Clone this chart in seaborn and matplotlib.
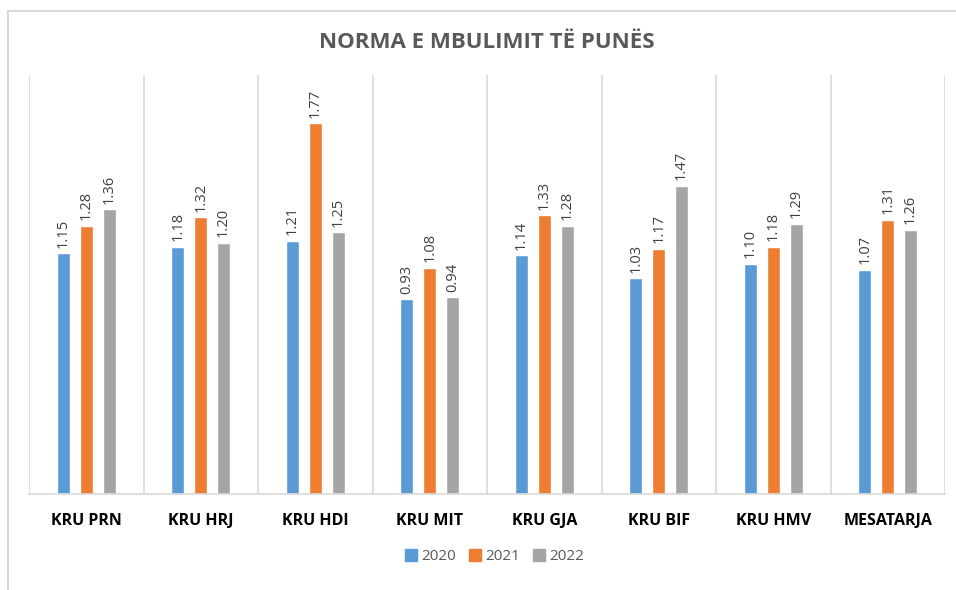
import numpy as np
import pandas as pd
import matplotlib.pyplot as plt
import seaborn as sns
from matplotlib.patches import Rectangle
from matplotlib.lines import Line2D

categories = ['KRU PRN', 'KRU HRJ', 'KRU HDI', 'KRU MIT', 'KRU GJA', 'KRU BIF', 'KRU HMV', 'MESATARJA']
years = ['2020', '2021', '2022']
v2020 = [1.15, 1.18, 1.21, 0.93, 1.14, 1.03, 1.10, 1.07]
v2021 = [1.28, 1.32, 1.77, 1.08, 1.33, 1.17, 1.18, 1.31]
v2022 = [1.36, 1.20, 1.25, 0.94, 1.28, 1.47, 1.29, 1.26]
colors = ['#5B9BD5', '#ED7D31', '#A5A5A5']

df = pd.DataFrame({
    'cat': categories * 3,
    'year': [y for y in years for _ in categories],
    'val': v2020 + v2021 + v2022,
})

sns.set_style('white')
plt.rcParams['font.family'] = ['Open Sans', 'DejaVu Sans']

fig = plt.figure(figsize=(9.56, 5.9), dpi=100)
ax = fig.add_axes([29 / 956, 1 - 494 / 590, (945 - 29) / 956, (494 - 75) / 590])

sns.barplot(data=df, x='cat', y='val', hue='year', palette=colors,
            width=0.6, gap=0.43, ax=ax, legend=False, saturation=1)

# value labels, vertical like excel
for c in ax.containers:
    ax.bar_label(c, fmt='%.2f', rotation=90, padding=4, fontsize=10.5, color='#404040')

ax.set_ylim(0, 2.0)
ax.set_xlim(-0.5, len(categories) - 0.5)
ax.set_yticks([])
ax.set_xlabel('')
ax.set_ylabel('')
ax.set_xticks(range(len(categories)))
ax.set_xticklabels(categories, fontsize=11.5, fontweight='bold', color='#000000')
ax.tick_params(axis='x', length=0, pad=14)
ax.set_xticks(np.arange(-0.5, len(categories)), minor=True)
ax.tick_params(axis='x', which='minor', length=0)
ax.grid(True, which='minor', axis='x', color='#d9d9d9', linewidth=1.2)
for s in ['top', 'right', 'left']:
    ax.spines[s].set_visible(False)
ax.spines['bottom'].set_color('#d9d9d9')
ax.spines['bottom'].set_linewidth(1.2)

fig.text(487 / 956, 1 - 43 / 590, 'NORMA E MBULIMIT TË PUNËS', ha='center', va='center',
         fontsize=16, fontweight='bold', color='#595959')

handles = [Line2D([], [], marker='s', linestyle='', markersize=8, color=c) for c in colors]
fig.legend(handles, years, loc='center', bbox_to_anchor=(495 / 956, 1 - 557 / 590),
           ncol=3, frameon=False, fontsize=11, handlelength=0.7, handletextpad=0.3,
           columnspacing=0.9, labelcolor='#595959')

# chart border (cropped on right and bottom)
fig.patches.append(Rectangle((8 / 956, -0.1), 1.2, 1 - 11 / 590 + 0.1, transform=fig.transFigure,
                             fill=False, edgecolor='#d9d9d9', linewidth=1.5))

fig.savefig('out.png', dpi=100)
